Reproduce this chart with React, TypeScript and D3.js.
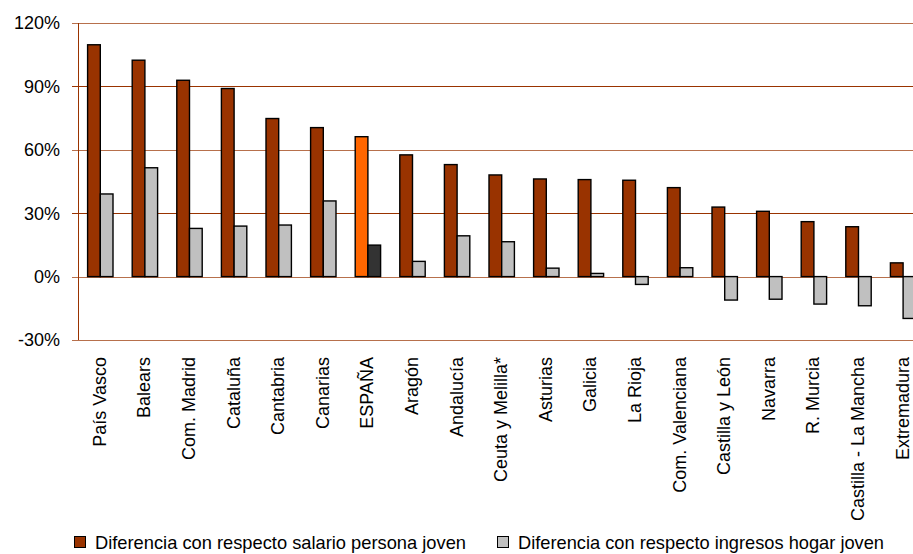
import * as React from "react";
import * as d3 from "d3";

const regions = [
  "País Vasco",
  "Balears",
  "Com. Madrid",
  "Cataluña",
  "Cantabria",
  "Canarias",
  "ESPAÑA",
  "Aragón",
  "Andalucía",
  "Ceuta y Melilla*",
  "Asturias",
  "Galicia",
  "La Rioja",
  "Com. Valenciana",
  "Castilla y León",
  "Navarra",
  "R. Murcia",
  "Castilla - La Mancha",
  "Extremadura",
];

const salarioJoven = [
  109.7, 102.4, 92.9, 89.0, 74.8, 70.5, 66.2, 57.6, 53.0, 48.1, 46.2, 45.9,
  45.6, 42.1, 32.9, 30.9, 26.0, 23.6, 6.5,
];

const hogarJoven = [
  39.1, 51.5, 22.8, 23.9, 24.4, 35.8, 14.9, 7.2, 19.3, 16.5, 4.0, 1.5, -3.7,
  4.2, -11.1, -10.7, -13.0, -13.8, -19.8,
];

const yTicks = [-30, 0, 30, 60, 90, 120];

const legendLabels = [
  "Diferencia con respecto salario persona joven",
  "Diferencia con respecto ingresos hogar joven",
];

const W = 913;
const H = 554;
const font = "'Liberation Sans', Arial, sans-serif";

export default function App() {
  const x = d3
    .scaleBand()
    .domain(regions)
    .range([78, 78 + 19 * 44.6])
    .padding(0);
  const y = d3.scaleLinear().domain([-30, 120]).range([340, 23]);
  const barW = 12.7;

  const fillA = (r: string) => (r === "ESPAÑA" ? "#FF6600" : "#993300");
  const fillB = (r: string) => (r === "ESPAÑA" ? "#333333" : "#C0C0C0");

  return (
    <svg
      width={W}
      height={H}
      style={{ position: "absolute", left: 0, top: 0, background: "#fff" }}
      fontFamily={font}
    >
      {/* grid lines */}
      {yTicks.map((t) => (
        <g key={t}>
          <line
            x1={72}
            x2={W}
            y1={Math.round(y(t)) + 0.5}
            y2={Math.round(y(t)) + 0.5}
            stroke="#993300"
            strokeOpacity={t === 0 || t === -30 || t === 120 || t === 60 ? 0.7 : 1}
            strokeWidth={1}
          />
          <text
            x={60}
            y={y(t)}
            dy="0.36em"
            textAnchor="end"
            fontSize={18}
            fill="#000"
          >
            {t}%
          </text>
        </g>
      ))}
      <line x1={78.5} x2={78.5} y1={y(120)} y2={y(-30)} stroke="#993300" />

      {/* bars */}
      {regions.map((r, i) => {
        const c = (x(r) as number) + x.bandwidth() / 2;
        const a = salarioJoven[i];
        const b = hogarJoven[i];
        return (
          <g key={r}>
            <rect
              x={c - barW}
              y={y(Math.max(0, a))}
              width={barW}
              height={Math.abs(y(a) - y(0))}
              fill={fillA(r)}
              stroke="#000"
              strokeWidth={1.4}
            />
            <rect
              x={c}
              y={y(Math.max(0, b))}
              width={barW}
              height={Math.abs(y(b) - y(0))}
              fill={fillB(r)}
              stroke="#000"
              strokeWidth={1.4}
            />
          </g>
        );
      })}

      {/* x labels */}
      {regions.map((r) => {
        const c = (x(r) as number) + x.bandwidth() / 2;
        return (
          <text
            key={r}
            transform={`translate(${c - 1},357) rotate(-90)`}
            textAnchor="end"
            dy="0.36em"
            fontSize={18}
            fill="#000"
          >
            {r}
          </text>
        );
      })}

      {/* legend */}
      <rect x={74.5} y={536.5} width={11} height={11} fill="#993300" stroke="#000" />
      <text x={95} y={548.5} fontSize={18.5} textLength={371} lengthAdjust="spacingAndGlyphs">
        {legendLabels[0]}
      </text>
      <rect x={497.5} y={536.5} width={11} height={11} fill="#C0C0C0" stroke="#000" />
      <text x={518} y={548.5} fontSize={18.5} textLength={366} lengthAdjust="spacingAndGlyphs">
        {legendLabels[1]}
      </text>
    </svg>
  );
}
